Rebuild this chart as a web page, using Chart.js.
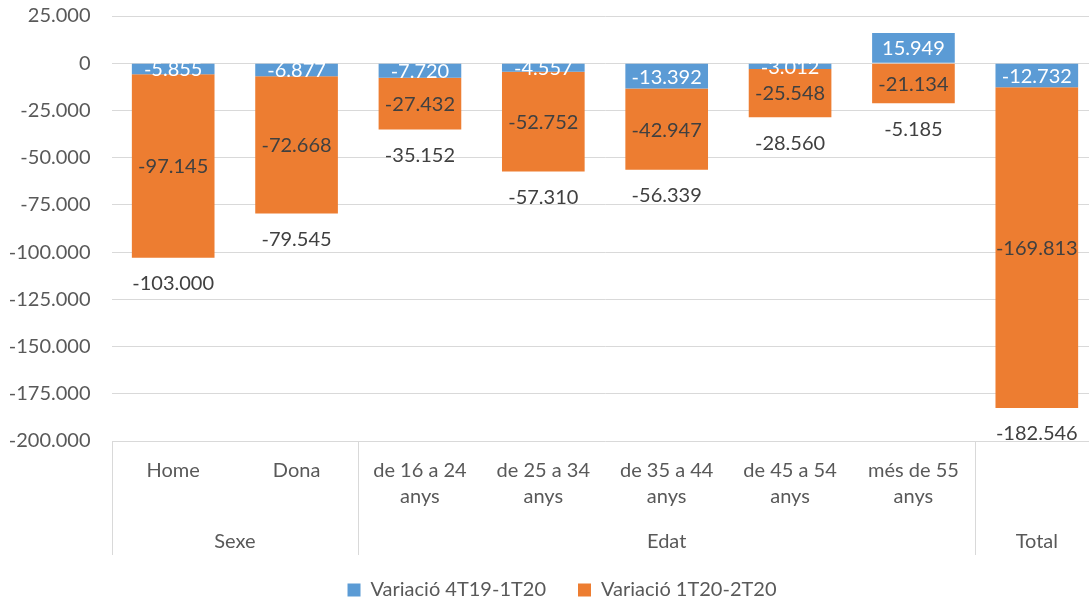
<!DOCTYPE html>
<html><head><meta charset="utf-8">
<script src="https://cdn.jsdelivr.net/npm/chart.js@4/dist/chart.umd.min.js"></script>
<style>html,body{margin:0;padding:0;background:#fff;overflow:hidden;width:1089px;height:603px}#w{width:1124px;height:603px;position:relative}</style>
</head><body><div id="w"><canvas id="c"></canvas></div>
<script>
const categories = [["Home"],["Dona"],["de 16 a 24","anys"],["de 25 a 34","anys"],["de 35 a 44","anys"],["de 45 a 54","anys"],["més de 55","anys"],[""]];
const groupNames = ["Sexe","Edat","Total"];
const groupStart = [0,2,7];
const groupEnd = [1,6,7];
const seriesNames = ["Variació 4T19-1T20","Variació 1T20-2T20"];
const var4T19_1T20 = [-5855,-6877,-7720,-4557,-13392,-3012,15949,-12732];
const var1T20_2T20 = [-97145,-72668,-27432,-52752,-42947,-25548,-21134,-169813];
const totals = [-103000,-79545,-35152,-57310,-56339,-28560,-5185,-182546];
const yMin = -200000, yMax = 25000, yStep = 25000;

const FONT = "Lato, 'Open Sans', sans-serif";
function fmt(v){
  const s = Math.abs(Math.round(v)).toString().replace(/\B(?=(\d{3})+(?!\d))/g, ".");
  return (v < 0 ? "-" : "") + s;
}

const labelsPlugin = {
  id: 'labelsPlugin',
  afterDatasetsDraw(chart){
    const ctx = chart.ctx;
    ctx.save();
    ctx.font = "20px " + FONT;
    ctx.textAlign = 'center';
    ctx.textBaseline = 'middle';
    const colors = ['#ffffff', '#404040'];
    chart.data.datasets.forEach((ds, di) => {
      const meta = chart.getDatasetMeta(di);
      meta.data.forEach((el, i) => {
        const y = (el.y + el.base) / 2;
        ctx.fillStyle = colors[di];
        ctx.fillText(fmt(ds.data[i]), el.x, y + 1);
      });
    });
    ctx.fillStyle = '#404040';
    totals.forEach((t, i) => {
      let bottom = -Infinity, x = 0;
      chart.data.datasets.forEach((ds, di) => {
        const el = chart.getDatasetMeta(di).data[i];
        x = el.x;
        bottom = Math.max(bottom, el.y, el.base);
      });
      ctx.fillText(fmt(t), x, bottom + 26);
    });
    ctx.restore();
  },
  afterDraw(chart){
    const ctx = chart.ctx;
    const xs = chart.scales.x;
    const area = chart.chartArea;
    const slot = xs.getPixelForValue(1) - xs.getPixelForValue(0);
    ctx.save();
    ctx.strokeStyle = '#d9d9d9';
    ctx.lineWidth = 1;
    groupStart.forEach(b => {
      const x = Math.round(xs.getPixelForValue(b) - slot / 2) + 0.5;
      ctx.beginPath();
      ctx.moveTo(x, area.bottom);
      ctx.lineTo(x, area.bottom + 114);
      ctx.stroke();
    });
    ctx.fillStyle = '#595959';
    ctx.font = "20px " + FONT;
    ctx.textAlign = 'center';
    ctx.textBaseline = 'middle';
    groupNames.forEach((g, k) => {
      const x = (xs.getPixelForValue(groupStart[k]) + xs.getPixelForValue(groupEnd[k])) / 2;
      ctx.fillText(g, x, area.bottom + 101);
    });
    ctx.restore();
  }
};

new Chart(document.getElementById('c'), {
  type: 'bar',
  data: {
    labels: categories,
    datasets: [
      { label: seriesNames[0], data: var4T19_1T20, backgroundColor: '#5B9BD5', stack: 's', yAxisID: 'y' },
      { label: seriesNames[1], data: var1T20_2T20, backgroundColor: '#ED7D31', stack: 's', yAxisID: 'y' }
    ]
  },
  options: {
    responsive: true,
    maintainAspectRatio: false,
    animation: false,
    layout: { padding: { top: 16, right: 0, left: 0, bottom: -7 } },
    datasets: { bar: { categoryPercentage: 1.0, barPercentage: 0.67 } },
    plugins: {
      legend: {
        position: 'bottom',
        labels: { font: { family: FONT, size: 20 }, color: '#595959', boxWidth: 13, boxHeight: 13, padding: 32 }
      },
      tooltip: { enabled: false }
    },
    scales: {
      x: {
        stacked: true,
        grid: { display: false, drawTicks: false },
        border: { display: false },
        ticks: { font: { family: FONT, size: 20, lineHeight: 1.3 }, color: '#595959', padding: 17, maxRotation: 0, autoSkip: false },
        afterFit(s){ s.height = 107; }
      },
      y: {
        stacked: true,
        position: 'left',
        min: yMin, max: yMax,
        grid: { color: '#d9d9d9', drawTicks: true, tickLength: 21, tickColor: 'rgba(0,0,0,0)' },
        border: { display: false },
        ticks: { stepSize: yStep, font: { family: FONT, size: 20 }, color: '#595959', padding: 0, callback: v => fmt(v) },
        afterFit(s){ s.width = 111.5; }
      },
      yRight: {
        position: 'right',
        display: true,
        min: yMin, max: yMax,
        grid: { display: false, drawTicks: false },
        border: { display: false },
        ticks: { display: false },
        afterFit(s){ s.width = 25.5; }
      }
    }
  },
  plugins: [labelsPlugin]
});
</script>
</body></html>
